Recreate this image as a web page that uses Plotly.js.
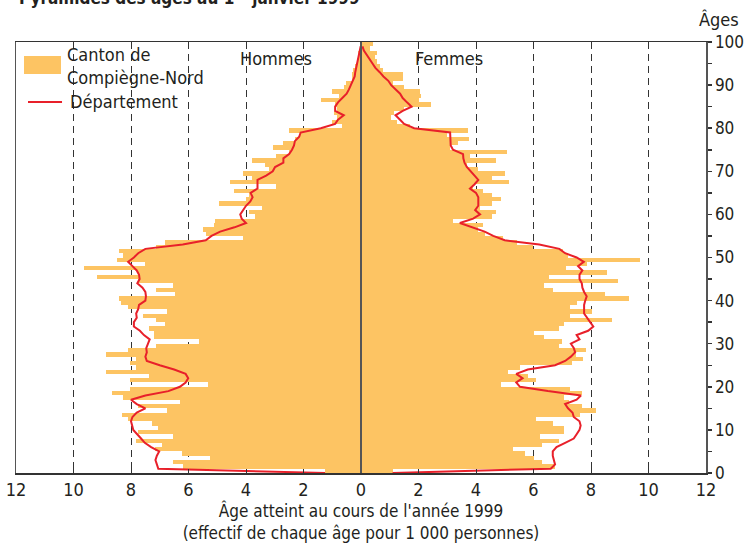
<!DOCTYPE html>
<html>
<head>
<meta charset="utf-8">
<script src="https://cdn.plot.ly/plotly-3.0.1.min.js"></script>
<style>
html,body{margin:0;padding:0;background:#fff;}
#chart{width:745px;height:551px;}
</style>
</head>
<body>
<div id="chart"></div>
<script>
const ages = [0,1,2,3,4,5,6,7,8,9,10,11,12,13,14,15,16,17,18,19,20,21,22,23,24,25,26,27,28,29,30,31,32,33,34,35,36,37,38,39,40,41,42,43,44,45,46,47,48,49,50,51,52,53,54,55,56,57,58,59,60,61,62,63,64,65,66,67,68,69,70,71,72,73,74,75,76,77,78,79,80,81,82,83,84,85,86,87,88,89,90,91,92,93,94,95,96,97,98,99];

// Canton de Compiègne-Nord (per 1000 persons), ages 0..99
const menCanton = [1.25,6.18,6.55,5.25,6.24,7.16,6.93,7.83,6.55,7.75,
7.07,7.28,8.09,8.32,6.76,7.75,6.3,8.27,8.65,8.03,
5.31,8.03,7.37,8.87,7.83,8.03,7.83,8.87,8.09,7.13,
5.63,7.2,7.2,7.36,6.82,7.13,7.57,6.76,8.09,8.36,
8.42,6.47,7.13,6.55,7.75,9.19,7.75,9.63,7.51,8.48,
8.27,8.42,7.13,6.82,4.09,5.4,5.49,5.13,5.08,3.69,
3.88,3.45,4.94,3.99,3.88,4.42,2.96,4.56,3.8,4.09,
3.2,3.34,3.78,2.96,2.5,3.05,2.72,2.3,2.12,2.49,
0.65,1.0,0.85,0.95,0.82,0.91,1.38,0.78,1.0,0.6,
0.53,0.3,0.32,0.28,0.2,0.15,0.1,0.1,0.05,0.05];

const womenCanton = [1.1,6.75,6.29,6.0,5.7,5.28,6.29,6.9,6.23,7.06,
7.06,6.67,6.09,7.62,8.17,7.68,7.22,7.06,7.68,7.27,
4.87,6.09,5.82,5.12,5.53,7.34,7.71,7.48,7.83,6.9,
6.98,6.38,6.0,6.9,7.06,8.72,7.27,8.02,7.27,7.5,
9.31,8.49,6.67,6.37,8.93,6.54,8.55,7.13,7.85,9.7,
7.2,7.03,5.99,5.41,4.95,4.3,4.08,4.23,3.2,4.55,
4.7,4.14,4.55,4.86,4.55,4.23,3.9,5.15,4.55,5.0,
4.08,3.7,4.7,3.79,5.07,3.1,3.38,3.77,3.0,3.71,
1.7,1.25,1.05,1.15,1.5,2.45,2.0,2.1,2.05,1.5,
1.1,1.45,1.45,0.75,0.65,0.55,0.5,0.55,0.3,0.4];

// Département, ages 0..99
const menDept = [1.25,7.05,7.1,7.15,7.1,7.02,7.3,7.52,7.65,7.8,
7.92,7.96,8.0,7.95,7.8,7.5,7.8,8.0,7.5,6.7,
6.3,6.1,6.01,6.1,6.5,7.0,7.45,7.5,7.45,7.47,
7.4,7.35,7.55,7.69,7.9,7.9,7.8,7.82,7.75,7.72,
7.5,7.48,7.5,7.6,7.78,7.7,7.72,7.8,7.95,8.1,
7.9,7.75,7.5,6.2,5.4,5.2,4.9,4.4,4.0,4.15,
4.2,4.1,4.0,3.85,3.77,3.84,3.6,3.6,3.6,3.3,
3.07,2.99,2.7,2.7,2.5,2.4,2.33,2.3,2.15,2.1,
1.4,0.9,0.8,0.6,0.9,0.9,0.8,0.65,0.5,0.42,
0.35,0.28,0.22,0.2,0.17,0.15,0.1,0.07,0.04,0.01];

const womenDept = [1.1,6.6,6.75,6.7,6.67,6.67,6.8,7.1,7.4,7.5,
7.6,7.64,7.6,7.4,7.36,7.2,7.1,7.5,7.65,6.5,
5.53,5.4,5.62,5.4,5.8,6.75,7.1,7.3,7.45,7.4,
7.3,7.6,7.5,7.9,8.08,7.97,7.85,7.76,7.76,7.76,
7.8,7.85,7.76,7.7,7.68,7.6,7.6,7.7,7.55,7.75,
7.5,7.1,6.9,6.2,5.0,4.6,4.3,3.9,3.44,3.9,
4.14,3.97,4.08,4.08,4.08,4.0,3.79,3.95,4.08,3.95,
3.8,3.68,3.6,3.56,3.55,3.2,3.12,3.12,3.12,3.1,
1.85,1.5,1.35,1.2,1.45,1.76,1.6,1.45,1.36,1.2,
1.05,0.95,0.78,0.65,0.5,0.4,0.3,0.2,0.1,0.05];

const xTickVals = [-12,-10,-8,-6,-4,-2,0,2,4,6,8,10,12];
const xTickText = ['12','10','8','6','4','2','0','2','4','6','8','10','12'];
const yTickVals = [0,10,20,30,40,50,60,70,80,90,100];

const ORANGE = '#FDC463';
const RED = '#E8202A';
const FONT = "'Liberation Sans Narrow', 'DejaVu Sans Condensed', 'Arial Narrow', sans-serif";

const neg = v => v.map(x => -x);

const traces = [
  {type:'bar', orientation:'h', y:ages, x:neg(menCanton), width:1, offset:0,
   marker:{color:ORANGE, line:{width:0}}, showlegend:false, hoverinfo:'skip'},
  {type:'bar', orientation:'h', y:ages, x:womenCanton, width:1, offset:0,
   marker:{color:ORANGE, line:{width:0}}, showlegend:false, hoverinfo:'skip'},
  {type:'scatter', mode:'lines', y:ages, x:neg(menDept),
   line:{color:RED, width:2}, showlegend:false, hoverinfo:'skip'},
  {type:'scatter', mode:'lines', y:ages, x:womenDept,
   line:{color:RED, width:2}, showlegend:false, hoverinfo:'skip'}
];

const layout = {
  width:745, height:551,
  margin:{l:16, r:39, t:42, b:78},
  paper_bgcolor:'#fff', plot_bgcolor:'#fff',
  barmode:'overlay', bargap:0,
  font:{family:FONT, size:17, color:'#231f20'},
  xaxis:{
    range:[-12,12], tickvals:xTickVals, ticktext:xTickText,
    showgrid:true, gridcolor:'#333', gridwidth:1, griddash:'7px,5px',
    zeroline:false, showline:true, linecolor:'#333', linewidth:1.5, mirror:true,
    ticks:'inside', ticklen:4, tickcolor:'#333',
    tickfont:{size:18, family:FONT, color:'#231f20'},
    fixedrange:true,
    title:{text:"Âge atteint au cours de l'année 1999<br>(effectif de chaque âge pour 1 000 personnes)",
      font:{size:17, family:FONT, color:'#231f20'}, standoff:2}
  },
  yaxis:{
    range:[0,100], side:'right', tickvals:yTickVals,
    showgrid:false, zeroline:false, showline:true, linecolor:'#555', linewidth:1.5, mirror:true,
    ticks:'outside', ticklen:4, tickcolor:'#333', tickwidth:1.5,
    minor:{dtick:5, ticks:'outside', ticklen:4, tickcolor:'#333', tickwidth:1.5, showgrid:false},
    tickfont:{size:17, family:FONT, color:'#231f20'},
    fixedrange:true
  },
  shapes:[
    {type:'line', xref:'x', yref:'paper', x0:0, x1:0, y0:0, y1:1, line:{color:'#555', width:2}, layer:'above'},
    {type:'rect', xref:'paper', yref:'paper', x0:0.0116, x1:0.0652, y0:0.9258, y1:0.9675, fillcolor:ORANGE, line:{width:0}},
    {type:'line', xref:'paper', yref:'paper', x0:0.0174, x1:0.0667, y0:0.8608, y1:0.8608, line:{color:RED, width:2}}
  ],
  annotations:[
    {xref:'paper', yref:'paper', x:0.0014, y:1.104, xanchor:'left', yanchor:'middle', showarrow:false,
     text:'<b>Pyramides des âges au 1<sup>er</sup> janvier 1999</b>', font:{size:17, family:FONT, color:'#231f20'}},
    {xref:'paper', yref:'paper', x:1.019, y:1.053, xanchor:'center', yanchor:'middle', showarrow:false,
     text:'Âges', font:{size:18, family:FONT, color:'#231f20'}},
    {xref:'paper', yref:'paper', x:0.071, y:0.945, xanchor:'left', yanchor:'middle', showarrow:false, align:'left',
     text:'Canton de<br>Compiègne-Nord', font:{size:18, family:FONT, color:'#231f20'}},
    {xref:'paper', yref:'paper', x:0.0754, y:0.861, xanchor:'left', yanchor:'middle', showarrow:false,
     text:'Département', font:{size:18, family:FONT, color:'#231f20'}},
    {xref:'paper', yref:'paper', x:0.3768, y:0.9606, xanchor:'center', yanchor:'middle', showarrow:false,
     text:'Hommes', font:{size:18, family:FONT, color:'#231f20'}},
    {xref:'paper', yref:'paper', x:0.6275, y:0.9606, xanchor:'center', yanchor:'middle', showarrow:false,
     text:'Femmes', font:{size:18, family:FONT, color:'#231f20'}}
  ]
};

Plotly.newPlot('chart', traces, layout, {displayModeBar:false, staticPlot:true});
</script>
</body>
</html>
